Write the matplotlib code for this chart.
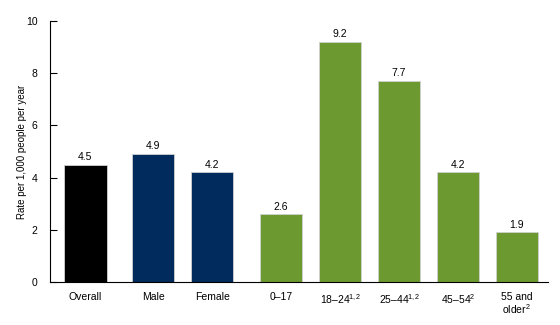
import matplotlib
matplotlib.use("Agg")
import matplotlib.pyplot as plt

plt.rcParams['font.family'] = ['Liberation Sans', 'DejaVu Sans']
plt.rcParams['mathtext.fontset'] = 'custom'
plt.rcParams['mathtext.rm'] = 'Liberation Sans'
plt.rcParams['mathtext.it'] = 'Liberation Sans'

categories = ['Overall', 'Male', 'Female', '0–17', '18–24$^{1{,}2}$', '25–44$^{1{,}2}$', '45–54$^{2}$', '55 and\nolder$^{2}$']
values = [4.5, 4.9, 4.2, 2.6, 9.2, 7.7, 4.2, 1.9]
labels = ['4.5', '4.9', '4.2', '2.6', '9.2', '7.7', '4.2', '1.9']
colors = ['#000000', '#002B5C', '#002B5C', '#6C9A30', '#6C9A30', '#6C9A30', '#6C9A30', '#6C9A30']
positions = [0, 1.15, 2.15, 3.32, 4.32, 5.32, 6.32, 7.32]

fig = plt.figure(figsize=(5.6, 3.25), dpi=100)
ax = fig.add_axes([0.0893, 0.1323, 0.8893, 0.8031])
bars = ax.bar(positions, values, width=0.72, color=colors, edgecolor='#d0d0d0', linewidth=0.6)
for p, v, l in zip(positions, values, labels):
    ax.text(p, v + 0.1, l, ha='center', va='bottom', fontsize=7.5)

ax.set_xlim(-0.6, 7.85)
ax.set_ylim(0, 10)
ax.set_yticks([0, 2, 4, 6, 8, 10])
ax.set_xticks(positions)
ax.set_xticklabels(categories, fontsize=7.5, linespacing=1.0)
ax.tick_params(axis='x', length=0, pad=7)
ax.tick_params(axis='y', labelsize=7.5, length=5, width=0.8, direction='in', pad=9)
ax.spines['top'].set_visible(False)
ax.spines['right'].set_visible(False)
ax.spines['left'].set_linewidth(0.8)
ax.spines['bottom'].set_linewidth(0.8)
ax.set_ylabel('Rate per 1,000 people per year', fontsize=7)
ax.yaxis.set_label_coords(-0.047, 0.5)

fig.savefig('out.png', dpi=100)
